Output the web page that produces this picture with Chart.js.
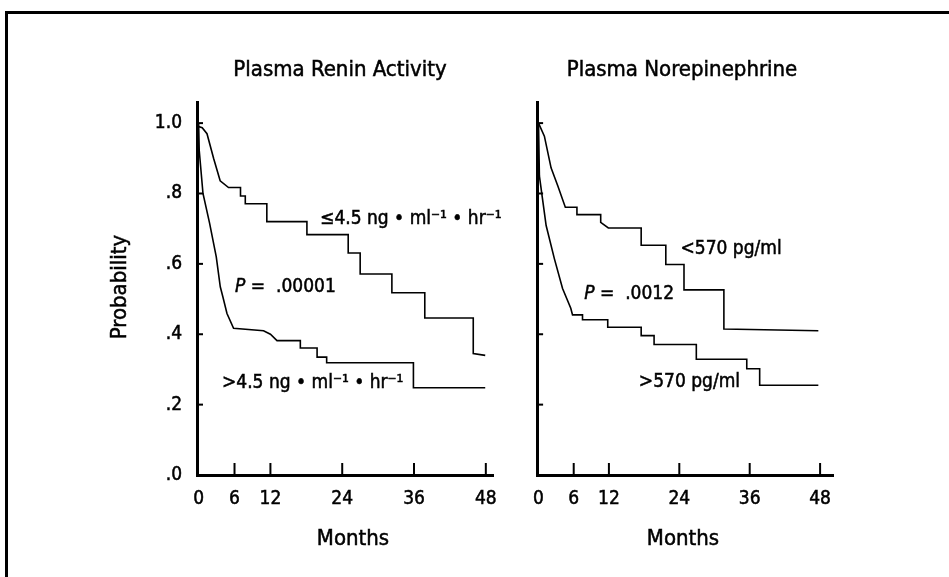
<!DOCTYPE html>
<html>
<head>
<meta charset="utf-8">
<script src="https://cdn.jsdelivr.net/npm/chart.js@4.4.1/dist/chart.umd.min.js"></script>
<style>
  html, body { margin: 0; padding: 0; background: #fff; overflow: hidden; }
  #page { position: relative; width: 949px; height: 577px; }
  #frame { position: absolute; left: 5px; top: 11px; width: 1000px; height: 600px;
           border-left: 3px solid #000; border-top: 3px solid #000; }
  canvas { position: absolute; top: 0; }
</style>
</head>
<body>
<div id="page">
  <div id="frame"></div>
  <canvas id="renin" width="520" height="577" style="left:0"></canvas>
  <canvas id="norepi" width="429" height="577" style="left:520px"></canvas>
</div>
<script>
// tick labels
const xTicks = [0, 6, 12, 24, 36, 48];
const yTicks = [0, 0.2, 0.4, 0.6, 0.8, 1.0];

// Plasma renin activity, <= 4.5 ng/ml/hr
const reninLowMonths = [0, 0.6, 1.4, 2.5, 3.6, 5.0, 7.0, 7.0, 7.8, 7.8, 11.4, 11.4, 18.1, 18.1, 25.0, 25.0, 27.0, 27.0, 32.3, 32.3, 37.8, 37.8, 45.9, 45.9, 47.9];
const reninLowProb   = [0.99, 0.987, 0.97, 0.90, 0.836, 0.817, 0.817, 0.793, 0.793, 0.771, 0.771, 0.72, 0.72, 0.683, 0.683, 0.631, 0.631, 0.571, 0.571, 0.518, 0.518, 0.446, 0.446, 0.345, 0.34];

// Plasma renin activity, > 4.5 ng/ml/hr
const reninHighMonths = [0, 0.1, 0.73, 1.84, 2.95, 3.62, 4.07, 4.74, 5.84, 10.85, 12.0, 13.1, 17.0, 17.0, 19.8, 19.8, 21.4, 21.4, 35.9, 35.9, 47.9];
const reninHighProb   = [1.0, 0.923, 0.80, 0.715, 0.62, 0.535, 0.505, 0.459, 0.417, 0.41, 0.40, 0.382, 0.382, 0.361, 0.361, 0.335, 0.335, 0.319, 0.319, 0.248, 0.248];

// Plasma norepinephrine, < 570 pg/ml
const neLowMonths = [0, 1.0, 2.14, 3.28, 4.57, 6.55, 6.55, 10.6, 10.6, 11.9, 17.5, 17.5, 21.7, 21.7, 24.8, 24.8, 31.6, 31.6, 47.7];
const neLowProb   = [1.0, 0.963, 0.873, 0.822, 0.761, 0.761, 0.740, 0.740, 0.718, 0.702, 0.702, 0.653, 0.653, 0.598, 0.598, 0.526, 0.526, 0.415, 0.41];

// Plasma norepinephrine, > 570 pg/ml
const neHighMonths = [0, 0.15, 1.3, 2.7, 4.1, 5.5, 5.8, 7.5, 7.5, 11.8, 11.8, 17.5, 17.5, 19.7, 19.7, 26.9, 26.9, 35.5, 35.5, 37.7, 37.7, 47.7];
const neHighProb   = [1.0, 0.85, 0.709, 0.615, 0.53, 0.474, 0.455, 0.455, 0.441, 0.441, 0.42, 0.42, 0.396, 0.396, 0.371, 0.371, 0.329, 0.329, 0.302, 0.302, 0.255, 0.255];

const FONT = "'Liberation Sans Narrow', 'Arial Narrow', 'DejaVu Sans Condensed', 'Liberation Sans', sans-serif";

function toPoints(months, prob) {
    return months.map((m, i) => ({ x: m, y: prob[i] }));
}

function curve(months, prob) {
    return {
        data: toPoints(months, prob),
        borderColor: "#000",
        borderWidth: 1.6,
        pointRadius: 0,
        tension: 0,
        fill: false
    };
}

// text with a thin outline so it prints a bit heavier, like the original
function heavyText(ctx, text, x, y) {
    ctx.fillText(text, x, y);
    ctx.strokeText(text, x, y);
}

// inward tick marks, titles and curve labels
function panelText(cfg) {
    return {
        id: "panelText",
        afterDraw(chart) {
            const ctx = chart.ctx;
            const xs = chart.scales.x;
            const ys = chart.scales.y;
            ctx.save();
            ctx.strokeStyle = "#000";
            ctx.lineWidth = 2;
            xs.ticks.forEach(t => {
                if (t.value === 0) return;
                const px = xs.getPixelForValue(t.value);
                ctx.beginPath();
                ctx.moveTo(px, ys.bottom);
                ctx.lineTo(px, ys.bottom - 12);
                ctx.stroke();
            });
            ys.ticks.forEach(t => {
                if (t.value === 0) return;
                const py = ys.getPixelForValue(t.value);
                ctx.beginPath();
                ctx.moveTo(xs.left, py);
                ctx.lineTo(xs.left + 6, py);
                ctx.stroke();
            });

            ctx.fillStyle = "#000";
            ctx.lineWidth = 0.5;
            ctx.textBaseline = "middle";
            ctx.textAlign = "center";
            ctx.font = "22px " + FONT;
            heavyText(ctx, cfg.title, cfg.titleX, 70);
            heavyText(ctx, "Months", cfg.monthsX, 539);
            if (cfg.yTitle) {
                ctx.save();
                ctx.translate(120, 287);
                ctx.rotate(-Math.PI / 2);
                heavyText(ctx, cfg.yTitle, 0, 0);
                ctx.restore();
            }

            ctx.textAlign = "left";
            cfg.labels.forEach(l => {
                let px = xs.getPixelForValue(l.m);
                const py = ys.getPixelForValue(l.p);
                l.parts.forEach(part => {
                    ctx.font = (part.italic ? "italic " : "") + "19px " + FONT;
                    heavyText(ctx, part.text, px, py);
                    px += ctx.measureText(part.text).width;
                });
            });
            ctx.restore();
        }
    };
}

function makeChart(id, datasets, opts) {
    const ctx = document.getElementById(id).getContext("2d");
    return new Chart(ctx, {
        type: "line",
        data: { datasets: datasets },
        options: {
            responsive: false,
            animation: false,
            devicePixelRatio: 1,
            layout: { padding: opts.padding },
            plugins: { legend: { display: false }, tooltip: { enabled: false } },
            scales: {
                x: {
                    type: "linear",
                    min: opts.xMin,
                    max: opts.xMax,
                    afterBuildTicks: s => { s.ticks = xTicks.map(v => ({ value: v })); },
                    afterFit: s => { s.height = 40; },
                    grid: { display: false, drawTicks: false },
                    border: { display: true, color: "#000", width: 3 },
                    ticks: {
                        color: "#000",
                        textStrokeColor: "#000",
                        textStrokeWidth: 0.5,
                        autoSkip: false,
                        maxRotation: 0,
                        padding: 13,
                        font: { family: FONT, size: 19 },
                        callback: v => String(v)
                    }
                },
                y: {
                    min: 0,
                    max: 1.06,
                    afterBuildTicks: s => { s.ticks = yTicks.map(v => ({ value: v })); },
                    afterFit: s => { s.width = opts.yWidth; },
                    grid: { display: false, drawTicks: false },
                    border: { display: true, color: "#000", width: 3 },
                    ticks: {
                        display: opts.yLabels,
                        color: "#000",
                        textStrokeColor: "#000",
                        textStrokeWidth: 0.5,
                        padding: 15,
                        font: { family: FONT, size: 19 },
                        callback: v => v.toFixed(1).replace(/^0/, "")
                    }
                }
            }
        },
        plugins: [panelText(opts.text)]
    });
}

makeChart("renin", [
    curve(reninLowMonths, reninLowProb),
    curve(reninHighMonths, reninHighProb)
], {
    padding: { left: 137, right: 27, top: 102, bottom: 62 },
    xMin: -0.27, xMax: 49.2,
    yWidth: 60, yLabels: true,
    text: {
        title: "Plasma Renin Activity", titleX: 340, monthsX: 353, yTitle: "Probability",
        labels: [
            { m: 20.3, p: 0.727, parts: [{ text: "≤4.5 ng • ml⁻¹ • hr⁻¹" }] },
            { m: 6.1, p: 0.534, parts: [{ text: "P", italic: true }, { text: " =  .00001" }] },
            { m: 3.9, p: 0.261, parts: [{ text: ">4.5 ng • ml⁻¹ • hr⁻¹" }] }
        ]
    }
});

makeChart("norepi", [
    curve(neLowMonths, neLowProb),
    curve(neHighMonths, neHighProb)
], {
    padding: { left: 10, right: 116, top: 102, bottom: 62 },
    xMin: -0.24, xMax: 50.2,
    yWidth: 6, yLabels: false,
    text: {
        title: "Plasma Norepinephrine", titleX: 162, monthsX: 163,
        labels: [
            { m: 24.2, p: 0.641, parts: [{ text: "<570 pg/ml" }] },
            { m: 7.8, p: 0.513, parts: [{ text: "P", italic: true }, { text: " =  .0012" }] },
            { m: 17.1, p: 0.265, parts: [{ text: ">570 pg/ml" }] }
        ]
    }
});
</script>
</body>
</html>
